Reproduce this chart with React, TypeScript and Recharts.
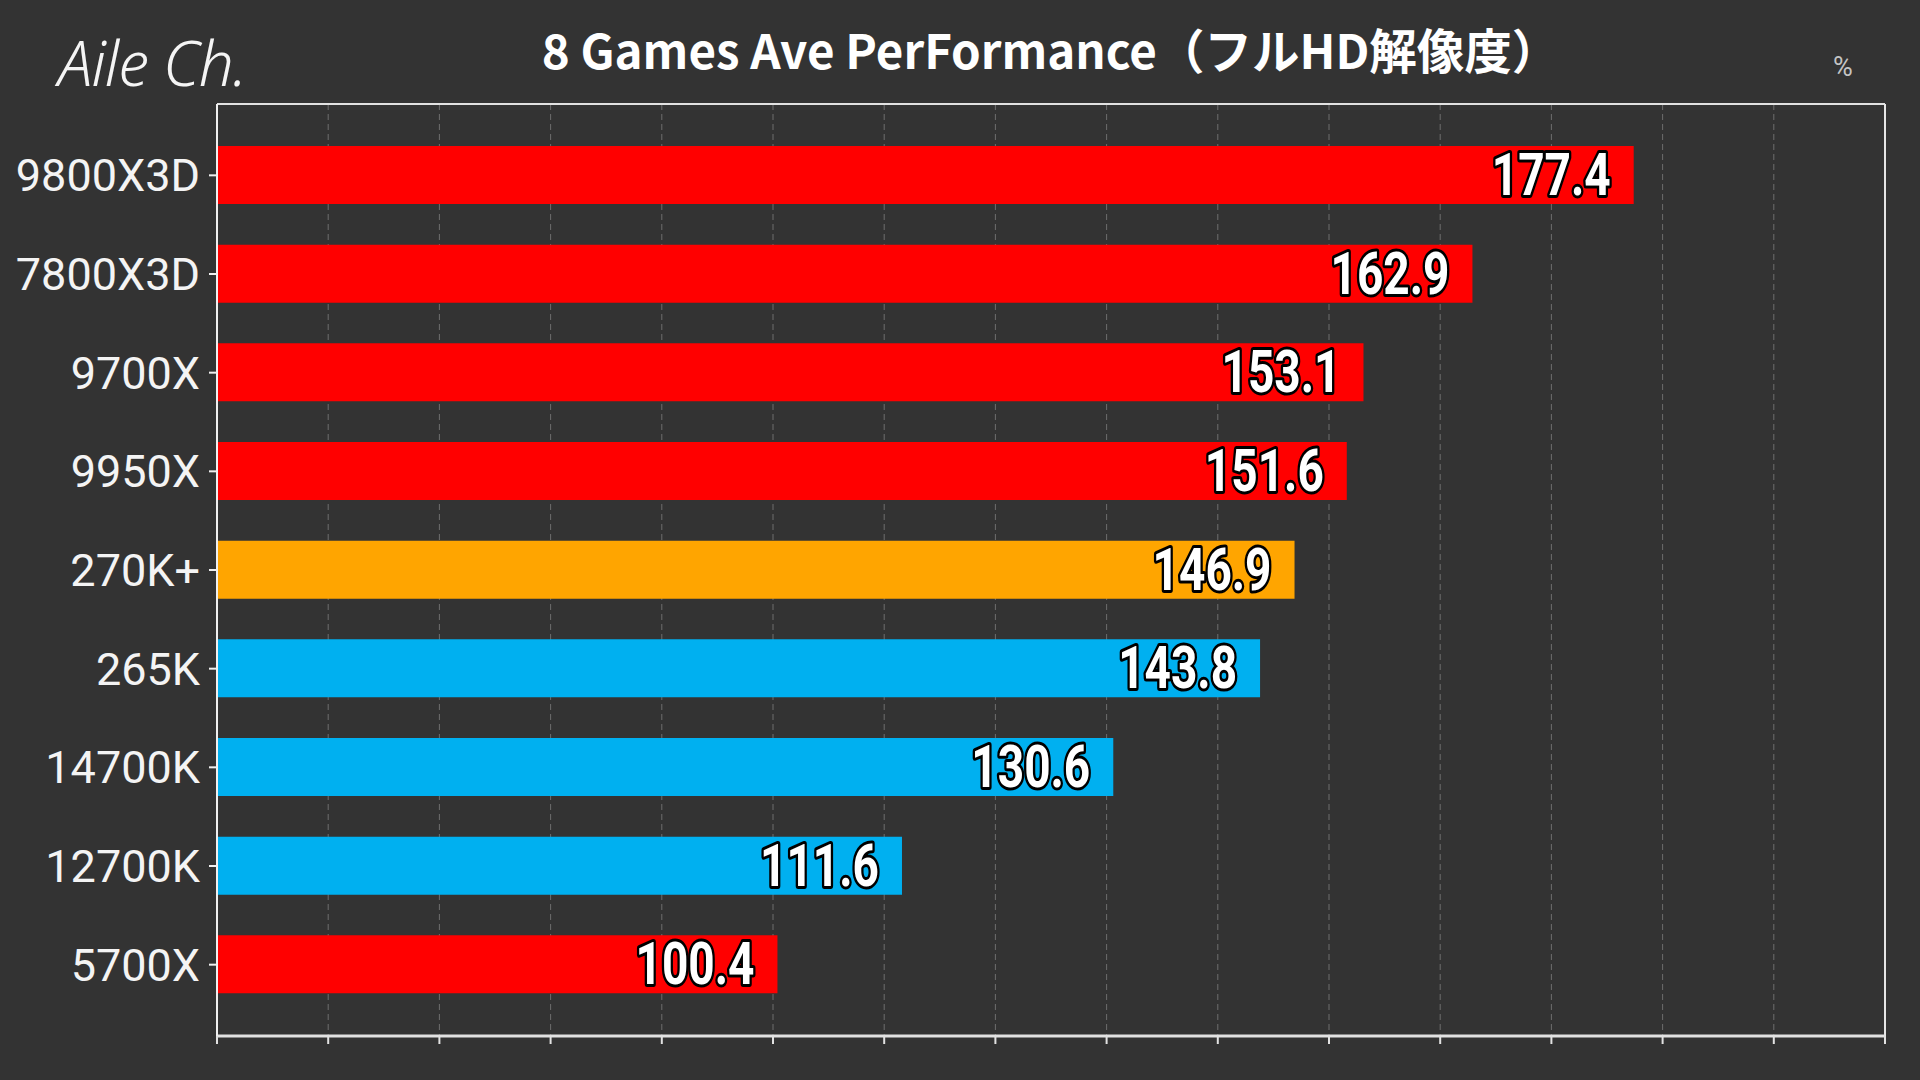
import {
  BarChart,
  Bar,
  Cell,
  CartesianGrid,
  LabelList,
  ReferenceLine,
  XAxis,
  YAxis,
} from "recharts";

const cpus = [
  "9800X3D",
  "7800X3D",
  "9700X",
  "9950X",
  "270K+",
  "265K",
  "14700K",
  "12700K",
  "5700X",
];

const scores = [177.4, 162.9, 153.1, 151.6, 146.9, 143.8, 130.6, 111.6, 100.4];

// which group each cpu belongs to (drives the bar colour)
const groups = [
  "amd",
  "amd",
  "amd",
  "amd",
  "highlight",
  "intel",
  "intel",
  "intel",
  "amd",
];

const xTicks = [
  50, 60, 70, 80, 90, 100, 110, 120, 130, 140, 150, 160, 170, 180, 190, 200,
];

const groupColors: Record<string, string> = {
  amd: "#FF0000",
  intel: "#00B0F0",
  highlight: "#FFA500",
};

const data = cpus.map((name, i) => ({ name, score: scores[i], group: groups[i] }));

// white number with a black outline, squeezed to look like a condensed face
function ValueLabel(props: any) {
  const { x, y, width, height, value } = props;
  return (
    <g transform={`translate(${x + width - 23}, ${y + height / 2}) scale(0.78, 1)`}>
      <text
        x={0}
        y={0}
        textAnchor="end"
        dominantBaseline="central"
        fill="#ffffff"
        stroke="#000000"
        strokeWidth={6}
        strokeLinejoin="round"
        paintOrder="stroke"
        fontFamily="Roboto, sans-serif"
        fontWeight={700}
        fontSize={59}
      >
        {value}
      </text>
    </g>
  );
}

export default function App() {
  return (
    <div
      style={{
        position: "absolute",
        left: 0,
        top: 0,
        width: 1920,
        height: 1080,
        background: "#333333",
        overflow: "hidden",
      }}
    >
      <div
        style={{
          position: "absolute",
          left: 58,
          top: 20,
          fontFamily: "'Noto Sans', sans-serif",
          fontWeight: 300,
          fontStyle: "italic",
          fontSize: 62,
          letterSpacing: -1,
          lineHeight: "normal",
          color: "#f5f5f5",
        }}
      >
        Aile Ch.
      </div>

      <div
        style={{
          position: "absolute",
          left: 0,
          width: 2101,
          top: 14,
          textAlign: "center",
          fontFamily: "'Noto Sans CJK JP', sans-serif",
          fontWeight: 700,
          fontSize: 47.5,
          lineHeight: "normal",
          color: "#ffffff",
        }}
      >
        8 Games Ave PerFormance（フルHD解像度）
      </div>

      <div
        style={{
          position: "absolute",
          left: 1833,
          top: 51,
          fontFamily: "Roboto, sans-serif",
          fontSize: 27,
          lineHeight: "normal",
          color: "#c4c4c4",
        }}
      >
        %
      </div>

      <div style={{ position: "absolute", left: 0, top: 0 }}>
        <BarChart
          width={1920}
          height={1080}
          data={data}
          layout="vertical"
          margin={{ top: 103, right: 35, bottom: 36, left: 0 }}
        >
          <CartesianGrid
            horizontal={false}
            stroke="#6e6e6e"
            strokeDasharray="6 4"
          />
          <XAxis
            type="number"
            domain={[50, 200]}
            ticks={xTicks}
            height={8}
            tickSize={8}
            tick={() => <g />}
            axisLine={{ stroke: "#e2e2e2", strokeWidth: 3 }}
            tickLine={{ stroke: "#e2e2e2", strokeWidth: 2 }}
          />
          <XAxis
            xAxisId="top"
            orientation="top"
            type="number"
            domain={[50, 200]}
            ticks={xTicks}
            height={1}
            tick={false}
            tickLine={false}
            axisLine={{ stroke: "#e2e2e2", strokeWidth: 2 }}
          />
          <YAxis
            type="category"
            dataKey="name"
            width={217}
            interval={0}
            tickSize={8}
            tickMargin={9}
            padding={{ top: 22, bottom: 22 }}
            axisLine={{ stroke: "#f0f0f0", strokeWidth: 2 }}
            tickLine={{ stroke: "#f0f0f0", strokeWidth: 2 }}
            tick={{
              fill: "#f4f4f4",
              fontSize: 45,
              fontFamily: "Roboto, sans-serif",
            }}
          />
          <ReferenceLine x={200} stroke="#e6e6e6" strokeWidth={2} />
          <Bar dataKey="score" barSize={58} isAnimationActive={false}>
            {data.map((d) => (
              <Cell key={d.name} fill={groupColors[d.group]} />
            ))}
            <LabelList dataKey="score" content={ValueLabel} />
          </Bar>
        </BarChart>
      </div>
    </div>
  );
}
